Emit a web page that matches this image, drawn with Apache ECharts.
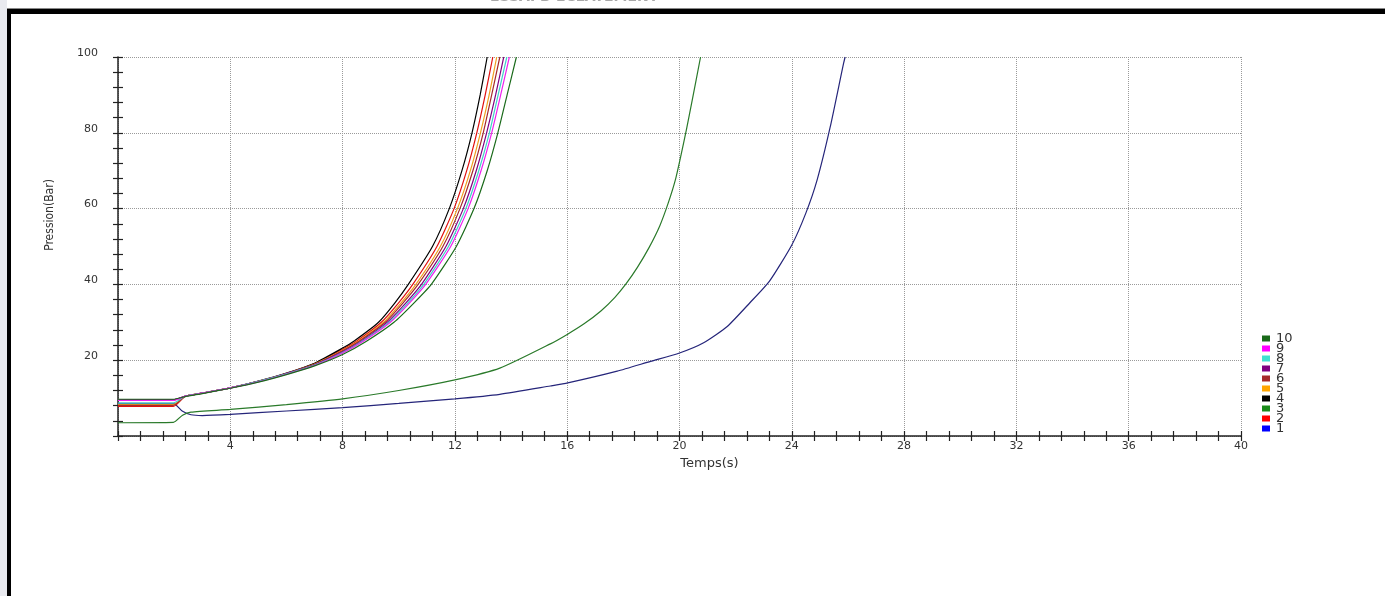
<!DOCTYPE html>
<html>
<head>
<meta charset="utf-8">
<script src="https://cdn.jsdelivr.net/npm/echarts@6/dist/echarts.min.js"></script>
<style>
html,body{margin:0;padding:0;background:#fff;}
#chart{width:1385px;height:596px;}
</style>
</head>
<body>
<div id="chart"></div>
<script>
// ---- data (time in s, pressure in bar) ----
const seriesNames = ['1','2','3','4','5','6','7','8','9','10'];
const legendOrder = ['10','9','8','7','6','5','4','3','2','1'];
const seriesColors = ['#0000ff','#ff0000','#1a8a1a','#000000','#ffa500','#a52a2a','#800080','#40e0d0','#ff00ff','#1a6a1a'];
const lineColors   = ['#25257a','#e01010','#2a7a2a','#000000','#f0a020','#a52a2a','#800080','#40d0c8','#ee22ee','#1a6a1a'];

const s1 = [[0,8.6],[1.97,8.6],[2.3,6.5],[2.6,5.6],[3,5.4],[4,5.7],[6,6.6],[8,7.5],[10,8.6],[12,9.8],[13.6,11.0],[15.4,13.2],[16.02,14.0],[17.78,17.1],[18.97,19.7],[20,21.9],[20.86,24.6],[21.7,28.9],[22.5,35.1],[23.2,40.8],[24.0,50.4],[24.5,58.8],[24.9,67.5],[25.37,81.6],[25.84,98.2],[25.9,100]];
const s2 = [[0,7.8],[1.97,7.8],[2.4,10.5],[3,11.3],[4,12.7],[5,14.4],[6,16.5],[7,19.1],[8,22.9],[8.49,25],[9.38,30],[9.98,35],[10.5,40],[11.36,50],[11.97,60],[12.42,70],[12.78,80],[13.08,90],[13.35,100]];
const s3 = [[0,3.5],[1.97,3.6],[2.3,5.5],[2.6,6.3],[4,7.0],[6,8.3],[8,9.8],[10,12],[12,14.8],[13.6,17.9],[15.4,24.3],[16.0,26.8],[16.6,29.6],[17.2,33.0],[17.7,36.6],[18.1,40.2],[18.5,44.5],[18.9,49.5],[19.3,55.5],[19.6,61.5],[19.85,67.5],[20.05,74],[20.25,81],[20.45,88.5],[20.75,100]];
const s4 = [[0,9.5],[1.97,9.5],[2.4,10.5],[3,11.3],[4,12.7],[5,14.5],[6,16.6],[7,19.2],[8,23.2],[8.4,25],[9.28,30],[9.85,35],[10.34,40],[11.2,50],[11.8,60],[12.25,70],[12.61,80],[12.9,90],[13.15,100]];
const s5 = [[0,8.3],[1.97,8.3],[2.4,10.5],[3,11.3],[4,12.7],[5,14.4],[6,16.5],[7,19.0],[8,22.6],[8.55,25],[9.46,30],[10.07,35],[10.61,40],[11.48,50],[12.09,60],[12.55,70],[12.91,80],[13.22,90],[13.49,100]];
const s6 = [[0,8.1],[1.97,8.1],[2.4,10.5],[3,11.3],[4,12.7],[5,14.4],[6,16.5],[7,18.9],[8,22.5],[8.59,25],[9.52,30],[10.14,35],[10.69,40],[11.57,50],[12.18,60],[12.64,70],[13.01,80],[13.31,90],[13.6,100]];
const s7 = [[0,9.6],[1.97,9.6],[2.4,10.5],[3,11.3],[4,12.7],[5,14.4],[6,16.5],[7,18.8],[8,22.2],[8.66,25],[9.59,30],[10.24,35],[10.81,40],[11.68,50],[12.3,60],[12.76,70],[13.13,80],[13.45,90],[13.74,100]];
const s8 = [[0,8.7],[1.97,8.7],[2.4,10.5],[3,11.3],[4,12.7],[5,14.4],[6,16.4],[7,18.7],[8,22.0],[8.7,25],[9.65,30],[10.31,35],[10.89,40],[11.77,50],[12.39,60],[12.85,70],[13.23,80],[13.54,90],[13.85,100]];
const s9 = [[0,9.4],[1.97,9.4],[2.4,10.5],[3,11.3],[4,12.7],[5,14.3],[6,16.3],[7,18.6],[8,21.9],[8.74,25],[9.7,30],[10.37,35],[10.96,40],[11.85,50],[12.47,60],[12.93,70],[13.31,80],[13.63,90],[13.94,100]];
const s10 = [[0,9.7],[1.97,9.7],[2.4,10.4],[3,11.2],[4,12.6],[5,14.2],[6,16.2],[7,18.5],[8,21.5],[8.85,25],[9.83,30],[10.53,35],[11.16,40],[12.05,50],[12.68,60],[13.15,70],[13.53,80],[13.86,90],[14.19,100]];
const allData = [s1,s2,s3,s4,s5,s6,s7,s8,s9,s10];

const xMin = 0, xMax = 40, xStep = 4;
const yMin = 0, yMax = 100, yStep = 20;
const xTitle = 'Temps(s)';
const yTitle = 'Pression(Bar)';
const pageTitle = "ESSAI D'ECLATEMENT";

const chart = echarts.init(document.getElementById('chart'), null, {renderer:'canvas'});
const axisColor = '#222';
const labelFont = {fontFamily:'DejaVu Sans', fontSize:11, color:'#333'};

function xAx(inside, main){
  return {
    type:'value', min:xMin, max:xMax, interval:xStep, position:'bottom',
    axisLine:{show:main, onZero:false, lineStyle:{color:axisColor, width:1.5}},
    axisTick:{show:true, inside:inside, length:5, lineStyle:{color:axisColor, width:1.2}},
    minorTick:{show:true, splitNumber:5, length:5, lineStyle:{color:axisColor, width:1.2}},
    splitLine:{show:main, lineStyle:{type:'dotted', color:'#9a9a9a', width:1}},
    minorSplitLine:{show:false},
    axisLabel:{show:main, margin:5, formatter:v => v===0 ? '' : String(v), ...labelFont},
    name: main ? xTitle : '', nameLocation:'middle', nameGap:20,
    nameTextStyle:{fontFamily:'DejaVu Sans', fontSize:13, color:'#333', padding:[0,0,0,60]}
  };
}
function yAx(inside, main){
  return {
    type:'value', min:yMin, max:yMax, interval:yStep, position:'left',
    axisLine:{show:main, onZero:false, lineStyle:{color:axisColor, width:1.5}},
    axisTick:{show:true, inside:inside, length:5, lineStyle:{color:axisColor, width:1.2}},
    minorTick:{show:true, splitNumber:5, length:5, lineStyle:{color:axisColor, width:1.2}},
    splitLine:{show:main, lineStyle:{type:'dotted', color:'#9a9a9a', width:1}},
    minorSplitLine:{show:false},
    axisLabel:{show:main, margin:20, verticalAlign:'bottom', lineHeight:8, formatter:v => v===0 ? '' : String(v), ...labelFont}
  };
}

const series = seriesNames.map((n,i) => ({
  name:n, type:'line', xAxisIndex:0, yAxisIndex:0,
  data: allData[i], showSymbol:false, symbol:'none',
  smooth:0.2, clip:true,
  itemStyle:{color:seriesColors[i]},
  lineStyle:{color:lineColors[i], width:1.2},
  z: 3 + i
}));

chart.setOption({
  animation:false,
  backgroundColor:'#ffffff',
  grid:{left:118, right:144, top:57, bottom:160, containLabel:false},
  xAxis:[xAx(false,true), xAx(true,false)],
  yAxis:[yAx(false,true), yAx(true,false)],
  legend:{
    orient:'vertical', left:1257, top:327, data:legendOrder,
    itemWidth:8, itemHeight:6, itemGap:-3, icon:'rect',
    textStyle:{fontFamily:'DejaVu Sans', fontSize:13, lineHeight:10, color:'#333', padding:[0,0,0,1]}
  },
  series: series,
  graphic:[
    {type:'rect', shape:{x:0,y:0,width:7,height:596}, style:{fill:'#e9eaef'}, silent:true},
    {type:'rect', shape:{x:7,y:8,width:1378,height:1}, style:{fill:'#888'}, silent:true},
    {type:'rect', shape:{x:7,y:9,width:1378,height:5}, style:{fill:'#000'}, silent:true},
    {type:'rect', shape:{x:7,y:9,width:4,height:587}, style:{fill:'#000'}, silent:true},
    {type:'text', x:490, y:-10, z:-1, style:{text:pageTitle, fontFamily:'DejaVu Sans', fontWeight:'bold', fontSize:14, fill:'#a8a8a8', verticalAlign:'top'}, silent:true},
    {type:'text', x:50, y:215, rotation:Math.PI/2,
     style:{text:yTitle, fontFamily:'Liberation Sans Narrow, DejaVu Sans Condensed, sans-serif', fontSize:12, fill:'#333', align:'center', verticalAlign:'middle'}, silent:true}
  ]
});
</script>
</body>
</html>
